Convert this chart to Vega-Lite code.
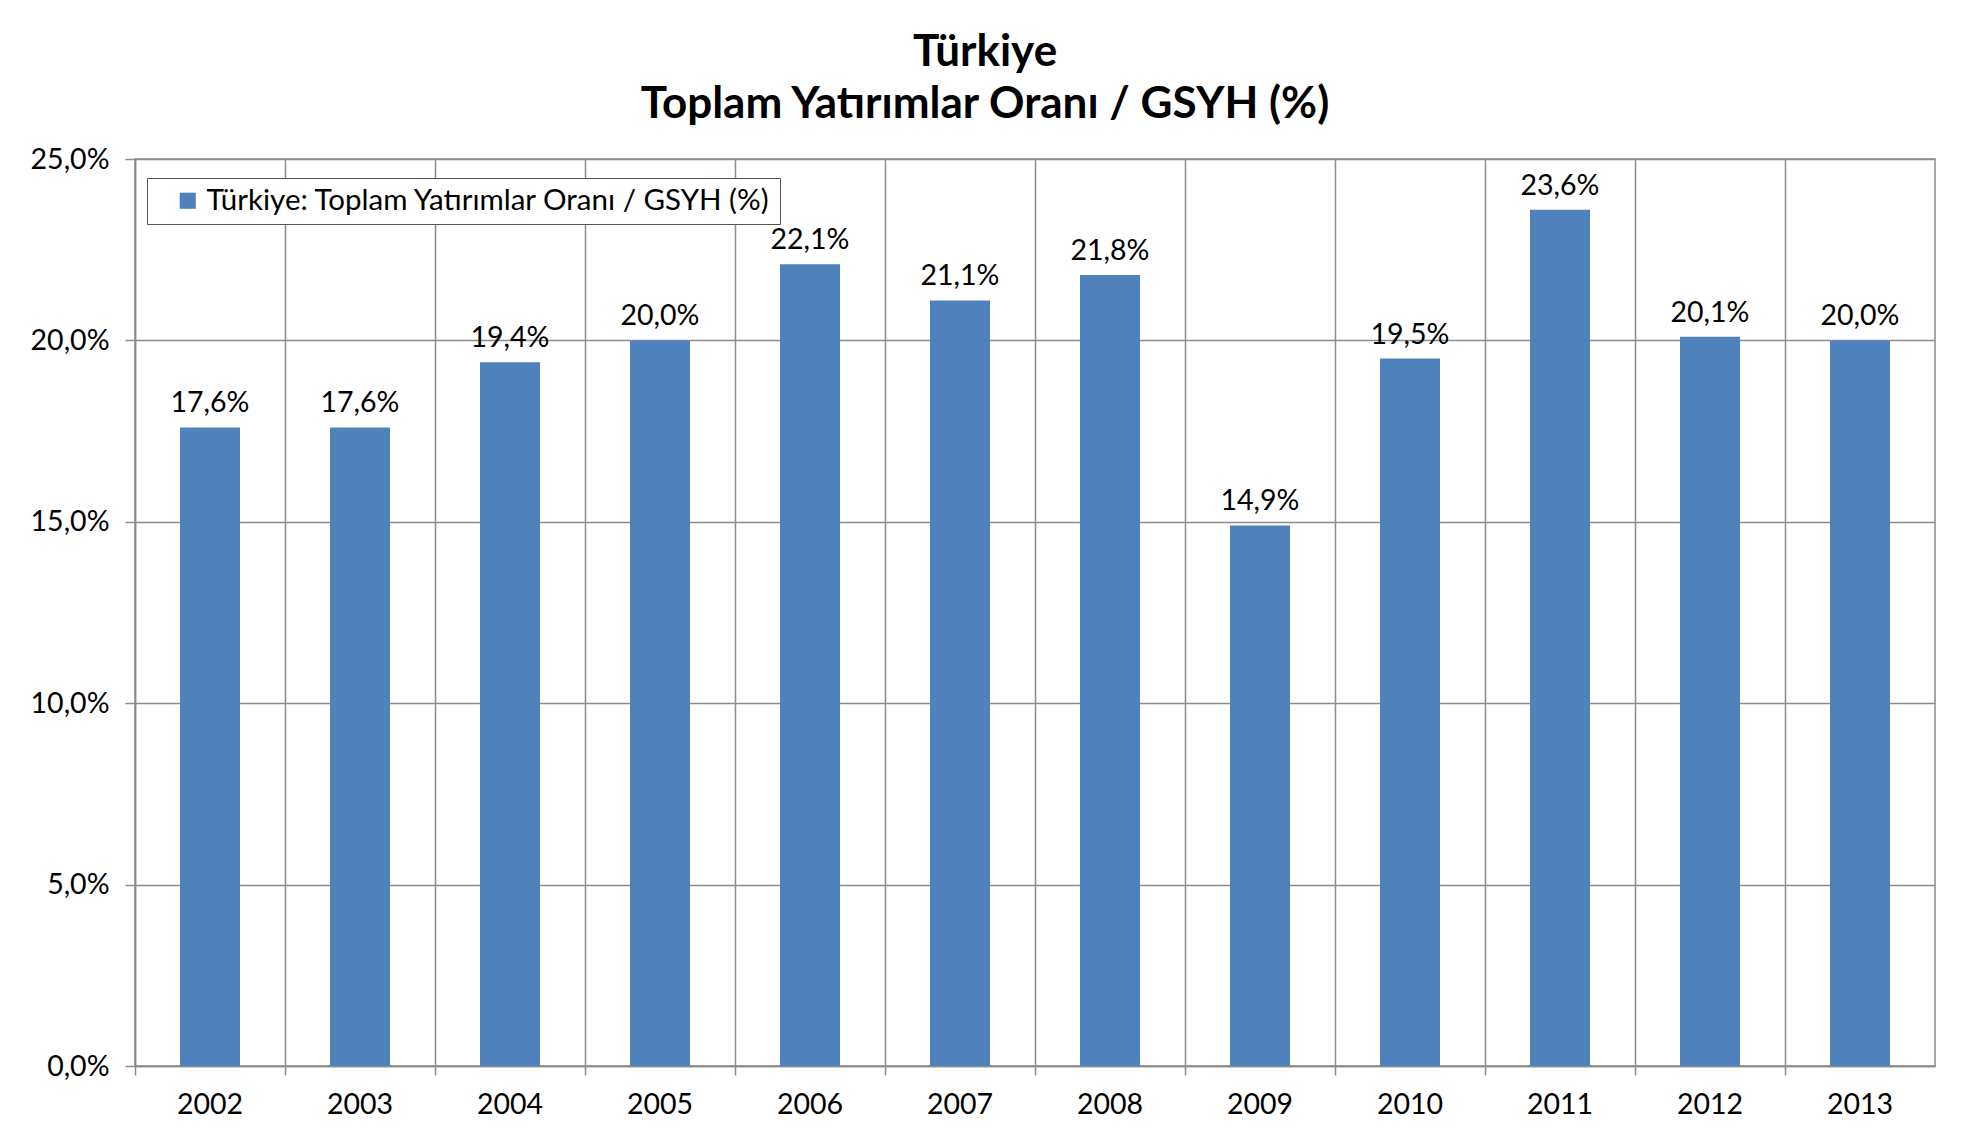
{
  "$schema": "https://vega.github.io/schema/vega-lite/v6.json",
  "autosize": {"type": "none"},
  "width": 1800,
  "height": 907,
  "padding": {"left": 135, "top": 159, "right": 33, "bottom": 65},
  "background": "white",
  "config": {
    "locale": {"number": {"decimal": ",", "thousands": ".", "grouping": [3], "currency": ["", " TL"]}},
    "font": "Lato",
    "view": {"stroke": "#8c8c8c", "strokeWidth": 1.5}
  },
  "title": {
    "text": ["Türkiye", "Toplam Yatırımlar Oranı / GSYH (%)"],
    "font": "Lato",
    "fontSize": 44,
    "fontWeight": "bold",
    "color": "#000000",
    "lineHeight": 52,
    "anchor": "middle",
    "dx": -50,
    "offset": 18
  },
  "data": {
    "values": [
      {"yil": "2002", "oran": 0.176},
      {"yil": "2003", "oran": 0.176},
      {"yil": "2004", "oran": 0.194},
      {"yil": "2005", "oran": 0.200},
      {"yil": "2006", "oran": 0.221},
      {"yil": "2007", "oran": 0.211},
      {"yil": "2008", "oran": 0.218},
      {"yil": "2009", "oran": 0.149},
      {"yil": "2010", "oran": 0.195},
      {"yil": "2011", "oran": 0.236},
      {"yil": "2012", "oran": 0.201},
      {"yil": "2013", "oran": 0.200}
    ]
  },
  "encoding": {
    "x": {
      "field": "yil",
      "type": "nominal",
      "sort": null,
      "scale": {"paddingInner": 0, "paddingOuter": 0},
      "axis": {
        "title": null,
        "labelAngle": 0,
        "bandPosition": 0,
        "labelFont": "Lato",
        "labelFontSize": 28.5,
        "labelColor": "#000000",
        "labelPadding": 15,
        "grid": true,
        "gridColor": "#8c8c8c",
        "gridWidth": 1.5,
        "tickColor": "#8c8c8c",
        "tickWidth": 1.5,
        "tickSize": 9,
        "domainColor": "#8c8c8c",
        "domainWidth": 1.5
      }
    },
    "y": {
      "field": "oran",
      "type": "quantitative",
      "scale": {"domain": [0, 0.25], "nice": false},
      "axis": {
        "title": null,
        "values": [0, 0.05, 0.1, 0.15, 0.2, 0.25],
        "format": ".1%",
        "labelFont": "Lato",
        "labelFontSize": 28.5,
        "labelColor": "#000000",
        "labelPadding": 16,
        "grid": true,
        "gridColor": "#8c8c8c",
        "gridWidth": 1.5,
        "tickColor": "#8c8c8c",
        "tickWidth": 1.5,
        "tickSize": 10,
        "domainColor": "#8c8c8c",
        "domainWidth": 1.5
      }
    }
  },
  "layer": [
    {
      "mark": {"type": "bar", "width": {"band": 0.4}},
      "encoding": {
        "color": {
          "datum": "Türkiye: Toplam Yatırımlar Oranı / GSYH (%)",
          "type": "nominal",
          "scale": {"range": ["#4F81BD"]},
          "legend": {
            "title": null,
            "orient": "none",
            "legendX": 12,
            "legendY": 19,
            "strokeColor": "#555555",
            "fillColor": "white",
            "padding": 8,
            "symbolOffset": 18,
            "symbolType": "square",
            "symbolSize": 260,
            "symbolStrokeWidth": 0,
            "labelFont": "Lato",
            "labelFontSize": 29.5,
            "labelColor": "#000000",
            "labelLimit": 1000,
            "offset": 0
          }
        }
      }
    },
    {
      "mark": {"type": "text", "baseline": "bottom", "dy": -9, "font": "Lato", "fontSize": 28.5, "color": "#000000"},
      "encoding": {
        "text": {"field": "oran", "type": "quantitative", "format": ".1%"}
      }
    }
  ]
}
